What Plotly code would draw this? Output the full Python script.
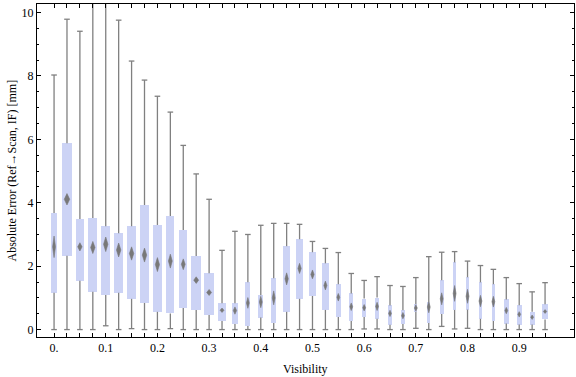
import plotly.graph_objects as go

# ---- data ----
visibility = [0.000, 0.025, 0.050, 0.075, 0.100, 0.125, 0.150, 0.175, 0.200, 0.225,
              0.250, 0.275, 0.300, 0.325, 0.350, 0.375, 0.400, 0.425, 0.450, 0.475,
              0.500, 0.525, 0.550, 0.575, 0.600, 0.625, 0.650, 0.675, 0.700, 0.725,
              0.750, 0.775, 0.800, 0.825, 0.850, 0.875, 0.900, 0.925, 0.950]
lower = [0, 0, 0, 0, 0.12, 0, 0.03, 0, 0, 0.03,
         0, 0, 0, 0, 0, 0, 0, 0, 0, 0,
         0, 0, 0, 0, 0.02, 0.02, 0, 0, 0.04, 0,
         0.10, 0.02, 0.04, 0, 0, 0, 0, 0, 0]
q1 = [1.16, 2.33, 1.54, 1.19, 1.09, 1.16, 0.97, 0.84, 0.56, 0.51,
      0.68, 0.62, 0.46, 0.27, 0.18, 0.11, 0.38, 0.21, 0.56, 0.97,
      1.06, 0.62, 0.40, 0.27, 0.40, 0.34, 0.15, 0.18, 0.56, 0.21,
      0.49, 0.62, 0.63, 0.34, 0.27, 0.19, 0.16, 0.16, 0.32]
median = [2.61, 4.11, 2.61, 2.59, 2.69, 2.51, 2.40, 2.35, 2.05, 2.16,
          2.06, 1.56, 1.17, 0.61, 0.60, 0.84, 0.87, 1.00, 1.60, 1.93,
          1.74, 1.39, 1.02, 0.72, 0.69, 0.73, 0.51, 0.44, 0.68, 0.71,
          0.97, 1.14, 1.05, 0.90, 0.88, 0.60, 0.48, 0.39, 0.57]
q3 = [3.68, 5.88, 3.49, 3.52, 3.26, 3.04, 3.26, 3.93, 3.30, 3.58,
      3.14, 2.32, 1.78, 0.83, 0.83, 1.49, 1.08, 1.62, 2.63, 2.85,
      2.44, 2.09, 1.43, 1.14, 0.98, 1.01, 0.76, 0.61, 0.80, 0.88,
      1.56, 2.12, 1.65, 1.49, 1.43, 0.95, 0.77, 0.56, 0.80]
upper = [8.03, 9.79, 9.41, 10.30, 10.33, 9.76, 8.47, 7.87, 7.36, 6.86,
         5.81, 4.91, 4.11, 2.50, 3.10, 3.00, 3.29, 3.35, 3.35, 3.32,
         2.78, 2.56, 2.43, 1.77, 1.55, 1.67, 1.39, 1.36, 1.64, 2.30,
         2.44, 2.46, 2.16, 2.02, 1.90, 1.64, 1.45, 1.19, 1.48]
notch = [0.34, 0.18, 0.13, 0.19, 0.23, 0.22, 0.21, 0.22, 0.22, 0.22,
         0.17, 0.105, 0.095, 0.07, 0.115, 0.17, 0.18, 0.22, 0.19, 0.16,
         0.14, 0.14, 0.12, 0.12, 0.10, 0.13, 0.10, 0.10, 0.10, 0.18,
         0.19, 0.25, 0.22, 0.18, 0.17, 0.10, 0.085, 0.07, 0.06]
box_width = [0.011, 0.021, 0.017, 0.017, 0.017, 0.017, 0.017, 0.017, 0.016, 0.015,
             0.015, 0.019, 0.019, 0.015, 0.013, 0.010, 0.010, 0.010, 0.013, 0.013,
             0.013, 0.012, 0.010, 0.008, 0.008, 0.008, 0.008, 0.008, 0.006, 0.006,
             0.008, 0.006, 0.006, 0.006, 0.006, 0.010, 0.010, 0.010, 0.013]
x_tick_vals = [0.0, 0.1, 0.2, 0.3, 0.4, 0.5, 0.6, 0.7, 0.8, 0.9]
x_tick_text = ["0.", "0.1", "0.2", "0.3", "0.4", "0.5", "0.6", "0.7", "0.8", "0.9"]
y_tick_vals = [0, 2, 4, 6, 8, 10]
x_title = "Visibility"
y_title = "Absolute Error (Ref\u2192Scan, IF) [mm]"

BOX = "#CCD3F5"
WHISK = "#808080"
DIAM = "#787878"
FONT = "'Liberation Serif', 'Times New Roman', Times, serif"

fig = go.Figure()

# boxes
fig.add_trace(go.Bar(x=visibility, y=[b - a for a, b in zip(q1, q3)], base=q1,
                     width=box_width, marker=dict(color=BOX, line=dict(width=0)),
                     showlegend=False, hoverinfo="skip"))

# whiskers
wx, wy = [], []
for v, lo, a, b, hi in zip(visibility, lower, q1, q3, upper):
    wx += [v, v, None, v, v, None]
    wy += [lo, a, None, b, hi, None]
fig.add_trace(go.Scatter(x=wx, y=wy, mode="lines", line=dict(color=WHISK, width=1.3),
                         cliponaxis=False, showlegend=False, hoverinfo="skip"))
# caps
fig.add_trace(go.Scatter(x=visibility + visibility, y=lower + upper, mode="markers",
                         marker=dict(symbol="line-ew", size=4,
                                     line=dict(color=WHISK, width=1.3)),
                         cliponaxis=False, showlegend=False, hoverinfo="skip"))

# median diamonds
dx, dy = [], []
for v, m, n, w in zip(visibility, median, notch, box_width):
    hw = max(w / 4, 0.0028)
    dx += [v, v + hw, v, v - hw, v, None]
    dy += [m + n, m, m - n, m, m + n, None]
fig.add_trace(go.Scatter(x=dx, y=dy, mode="lines", fill="toself", fillcolor=DIAM,
                         line=dict(color=DIAM, width=0.6),
                         showlegend=False, hoverinfo="skip"))

fig.update_layout(
    width=576, height=377,
    margin=dict(l=37, r=2, t=4, b=40, autoexpand=False),
    plot_bgcolor="white", paper_bgcolor="white",
    font=dict(family=FONT, size=12, color="black"),
    bargap=0,
    annotations=[
        dict(text=x_title, xref="paper", yref="paper", x=0.5, y=-0.096,
             xanchor="center", yanchor="middle", showarrow=False,
             font=dict(family=FONT, size=12)),
        dict(text=y_title, xref="paper", yref="paper", x=-0.0466, y=0.5,
             xanchor="center", yanchor="middle", showarrow=False, textangle=-90,
             font=dict(family=FONT, size=12)),
    ],
)
fig.update_xaxes(
    range=[-0.033, 1.006], showgrid=False, zeroline=False, automargin=False,
    showline=True, linecolor="black", linewidth=1, mirror="ticks",
    ticks="inside", ticklen=4, tickcolor="black", tickwidth=1,
    tickvals=visibility,
    ticktext=[x_tick_text[x_tick_vals.index(round(v, 3))] if round(v, 3) in x_tick_vals else ""
              for v in visibility],
    tickfont=dict(family=FONT, size=12),
)
fig.update_yaxes(
    range=[-0.234, 10.27], showgrid=False, zeroline=False, automargin=False,
    showline=True, linecolor="black", linewidth=1, mirror="ticks",
    ticks="inside", ticklen=4, tickcolor="black", tickwidth=1,
    tickvals=y_tick_vals,
    minor=dict(ticks="inside", ticklen=2, dtick=0.5, tick0=0, tickcolor="black"),
    tickfont=dict(family=FONT, size=12),
)

fig.write_html("out.html", config={"displayModeBar": False},
               post_script="document.body.style.margin='0px';document.body.style.padding='0px';")
